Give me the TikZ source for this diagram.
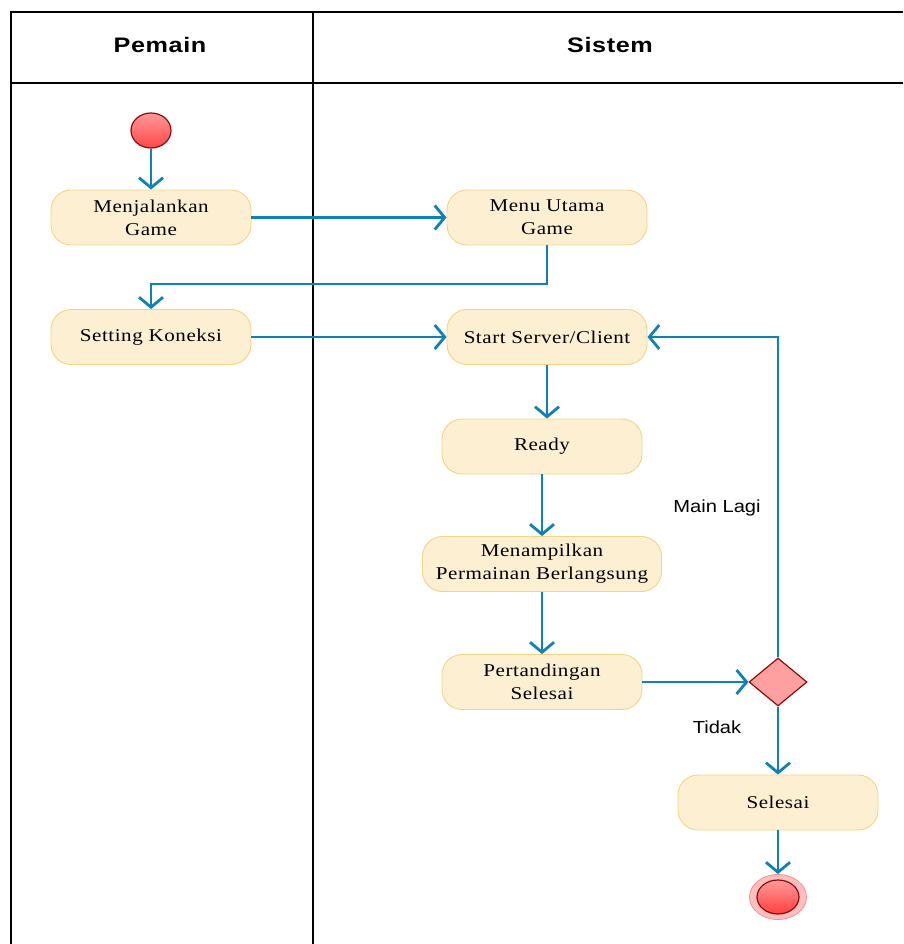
\documentclass[tikz,border=0pt]{standalone}
\usepackage{fontspec}
\setmainfont{Liberation Serif}[FakeStretch=1.17,LetterSpace=3]
\newfontfamily\lblfont{Liberation Sans}[FakeStretch=1.15]
\newfontfamily\headfont{Liberation Sans}[FakeStretch=1.2,LetterSpace=3]
\usetikzlibrary{arrows.meta,shapes.geometric}
\definecolor{actfill}{RGB}{253,240,210}
\definecolor{actborder}{RGB}{243,212,132}
\definecolor{flowblue}{RGB}{14,130,180}
\definecolor{darkred}{RGB}{140,10,10}
\definecolor{decfill}{RGB}{255,160,160}
\begin{document}
\begin{tikzpicture}[x=1pt,y=-1pt,
  frame/.style={line width=2pt,black},
  headtext/.style={font=\headfont\bfseries\fontsize{21}{25}\selectfont},
  action/.style={rectangle,rounded corners=20pt,draw=actborder,fill=actfill,
    line width=0.9pt,minimum width=200pt,minimum height=55pt,inner sep=0pt,
    align=center,font=\fontsize{18}{23}\selectfont},
  startnode/.style={ellipse,draw=darkred,line width=1.2pt,
    top color=red!40,bottom color=red!72,minimum width=40pt,minimum height=35pt,inner sep=0pt},
  endouter/.style={ellipse,draw=red!45,line width=0.8pt,fill=red!25,
    minimum width=57pt,minimum height=45pt,inner sep=0pt},
  endinner/.style={ellipse,draw=darkred,line width=1.2pt,
    top color=red!40,bottom color=red!75,minimum width=42pt,minimum height=34pt,inner sep=0pt},
  decision/.style={diamond,draw=darkred,line width=1.2pt,fill=decfill,
    minimum width=58pt,minimum height=48pt,inner sep=0pt},
  flow/.style={draw=flowblue,line width=2.8pt,
    -{Straight Barb[length=10pt,width=24pt,line width=2.8pt]}},
  guard/.style={font=\lblfont\fontsize{17.5}{20}\selectfont}
]
\useasboundingbox (0,0) rectangle (903,944);

% swimlane frame
\draw[frame] (11,944) -- (11,12) -- (903,12);
\draw[frame] (11,83) -- (903,83);
\draw[frame] (313,12) -- (313,944);
\node[headtext] (lanep) at (160,45) {Pemain};
\node[headtext] (lanes) at (610,45) {Sistem};

% activities
\node[startnode] (start) at (151,130.5) {};
\node[action] (mj) at (151,217.5) {Menjalankan\\Game};
\node[action] (mu) at (547,217.5) {Menu Utama\\Game};
\node[action] (sk) at (151,337) {Setting Koneksi};
\node[action] (ss) at (547,337) {Start Server/Client};
\node[action] (rd) at (542,446.5) {Ready};
\node[action,minimum width=239pt] (mp) at (542,564) {Menampilkan\\Permainan Berlangsung};
\node[action] (pt) at (542,682) {Pertandingan\\Selesai};
\node[decision] (dec) at (778,682) {};
\node[action] (sl) at (778,802.5) {Selesai};
\node[endouter] (endout) at (778,897) {};
\node[endinner] (endin) at (778,897) {};

% guards
\node[guard] (lagi) at (717,508) {Main Lagi};
\node[guard] (tidak) at (717,727) {Tidak};

% transitions
\coordinate (bend) at (0,284);
\draw[flow] (start) -- (mj);
\draw[flow] (mj) -- (mu);
\draw[flow] (mu.south) -- (mu.south |- bend) -| (sk.north);
\draw[flow] (sk) -- (ss);
\draw[flow] (ss.south) -- (ss.south |- rd.north);
\draw[flow] (rd) -- (mp);
\draw[flow] (mp) -- (pt);
\draw[flow] (pt) -- (dec);
\draw[flow] (dec.north) |- (ss.east);
\draw[flow] (dec.south) -- (sl.north);
\draw[flow] (sl) -- (endout);
\end{tikzpicture}
\end{document}
